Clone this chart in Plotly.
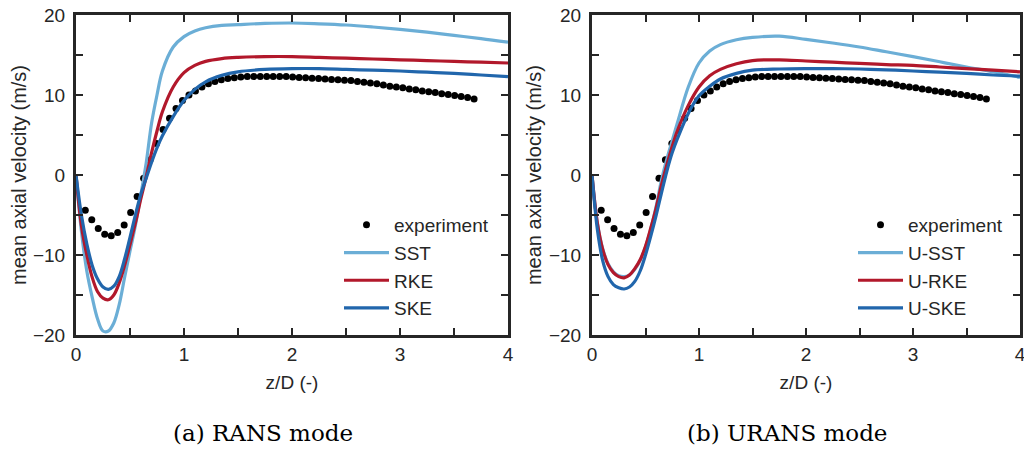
import plotly.graph_objects as go

# ---------------- data ----------------
exp_z = [0.086, 0.146, 0.206, 0.266, 0.326, 0.386, 0.446, 0.506, 0.566, 0.626,
         0.686, 0.746, 0.806, 0.866, 0.926, 0.986, 1.046, 1.106, 1.166, 1.226,
         1.286, 1.346, 1.406, 1.466, 1.526, 1.586, 1.646, 1.706, 1.766, 1.826,
         1.886, 1.946, 2.006, 2.066, 2.126, 2.186, 2.246, 2.306, 2.366, 2.426,
         2.486, 2.546, 2.606, 2.666, 2.726, 2.786, 2.846, 2.906, 2.966, 3.026,
         3.086, 3.146, 3.206, 3.266, 3.326, 3.386, 3.446, 3.506, 3.566, 3.626,
         3.686]
exp_u = [-4.4, -5.6, -6.7, -7.4, -7.6, -7.2, -6.25, -4.7, -2.7, -0.4,
         1.9, 3.95, 5.7, 7.1, 8.3, 9.3, 10.0, 10.5, 11.0, 11.4,
         11.7, 11.9, 12.05, 12.15, 12.25, 12.3, 12.3, 12.3, 12.3, 12.3,
         12.3, 12.3, 12.25, 12.2, 12.15, 12.1, 12.05, 12.0, 11.95, 11.9,
         11.85, 11.8, 11.7, 11.6, 11.5, 11.4, 11.25, 11.1, 11.0, 10.9,
         10.75, 10.65, 10.5, 10.4, 10.3, 10.15, 10.05, 9.95, 9.8, 9.7,
         9.5]

curve_z = [0, 0.05, 0.1, 0.15, 0.2, 0.25, 0.3, 0.35, 0.4, 0.45, 0.5, 0.55, 0.6,
           0.65, 0.7, 0.75, 0.8, 0.9, 1.0, 1.1, 1.2, 1.35, 1.5, 1.75, 2.0, 2.25,
           2.5, 2.75, 3.0, 3.25, 3.5, 3.75, 4.0]

sst = [0, -7.0, -12.0, -15.3, -18.0, -19.5, -19.5, -18.5, -16.2, -12.8, -9.5, -6.3, -2.5,
       1.5, 6.5, 10.0, 13.0, 16.0, 17.3, 18.0, 18.4, 18.7, 18.8, 18.95, 19.0, 18.9,
       18.75, 18.5, 18.2, 17.85, 17.45, 17.05, 16.6]
rke = [0, -6.3, -10.0, -12.8, -14.6, -15.4, -15.6, -15.0, -13.5, -11.3, -8.7, -6.0, -3.0,
       -0.2, 2.8, 5.5, 7.9, 11.0, 12.8, 13.7, 14.2, 14.55, 14.7, 14.8, 14.8, 14.7,
       14.6, 14.5, 14.4, 14.3, 14.2, 14.1, 14.0]
ske = [0, -5.0, -8.6, -11.3, -13.0, -14.0, -14.3, -13.9, -12.7, -10.5, -7.8, -5.0, -2.4,
       -0.4, 1.6, 3.4, 4.9, 7.3, 9.3, 10.7, 11.65, 12.45, 12.9, 13.2, 13.3, 13.3,
       13.2, 13.1, 13.0, 12.85, 12.7, 12.5, 12.3]

u_sst = [0, -6.0, -9.2, -11.1, -12.1, -12.6, -12.7, -12.5, -11.8, -10.7, -9.0, -6.7, -3.9,
         -0.6, 2.0, 4.3, 6.6, 11.0, 14.0, 15.5, 16.3, 16.9, 17.2, 17.35, 16.95, 16.5,
         16.0, 15.4, 14.8, 14.15, 13.5, 12.9, 12.2]
u_rke = [0, -6.0, -9.3, -11.2, -12.2, -12.7, -12.85, -12.5, -11.7, -10.6, -8.9, -6.6, -4.1,
         -1.2, 1.3, 3.6, 5.6, 8.7, 11.0, 12.4, 13.2, 13.9, 14.3, 14.4, 14.25, 14.1,
         13.95, 13.8, 13.7, 13.5, 13.3, 13.1, 12.9]
u_ske = [0, -6.8, -10.7, -12.7, -13.7, -14.1, -14.25, -14.0, -13.3, -12.0, -10.0, -7.6, -5.0,
         -2.2, 0.5, 2.8, 4.6, 7.7, 9.9, 11.1, 12.0, 12.7, 13.1, 13.25, 13.3, 13.3,
         13.25, 13.15, 13.0, 12.85, 12.7, 12.5, 12.35]

x_tickvals = [0, 0.5, 1, 1.5, 2, 2.5, 3, 3.5, 4]
x_ticktext = ["0", "", "1", "", "2", "", "3", "", "4"]
y_tickvals = [-20, -15, -10, -5, 0, 5, 10, 15, 20]
y_ticktext = ["\u221220", "", "\u221210", "", "0", "", "10", "", "20"]

captions = ["(a) RANS mode", "(b) URANS mode"]
left_names = ["SST", "RKE", "SKE"]
right_names = ["U-SST", "U-RKE", "U-SKE"]

# ---------------- styles ----------------
C_SST = "#6baed6"
C_RKE = "#b2182b"
C_SKE = "#2166ac"
INK = "#262626"
SANS = "Liberation Sans, Arial, sans-serif"

OFF = 8                      # page body margin in the browser
W, H = 1032 - 2 * OFF, 454 - 2 * OFF   # no page overflow -> no scrollbars
ML, MT = 76 - OFF, 15 - OFF
MR = W - (1020 - OFF)
MB = H - (335 - OFF)
PW = W - ML - MR
PH = H - MT - MB

def px_x(p):  # reference-image pixel -> paper x
    return (p - OFF - ML) / PW

def px_y(p):  # reference-image pixel -> paper y
    return 1 - (p - OFF - MT) / PH

fig = go.Figure()

panels = [
    dict(xa="x", ya="y", legend="legend", series=[sst, rke, ske], names=left_names),
    dict(xa="x2", ya="y2", legend="legend2", series=[u_sst, u_rke, u_ske], names=right_names),
]
colors = [C_SST, C_RKE, C_SKE]

for p in panels:
    fig.add_trace(go.Scatter(
        x=exp_z, y=exp_u, mode="markers", name="experiment",
        marker=dict(color="black", size=7),
        xaxis=p["xa"], yaxis=p["ya"], legend=p["legend"]))
    for vals, nm, col in zip(p["series"], p["names"], colors):
        fig.add_trace(go.Scatter(
            x=curve_z, y=vals, mode="lines", name=nm,
            line=dict(color=col, width=3.2, shape="spline", smoothing=1.0),
            xaxis=p["xa"], yaxis=p["ya"], legend=p["legend"]))

x_common = dict(range=[0, 4], tickvals=x_tickvals, ticktext=x_ticktext,
                ticks="inside", ticklen=7, tickwidth=1.5, tickcolor=INK,
                showline=True, linewidth=3, linecolor=INK, mirror="ticks",
                showgrid=False, zeroline=False, ticklabeloverflow="allow",
                automargin="bottom",
                tickfont=dict(family=SANS, size=19, color=INK),
                title=dict(text="z/D (-)", font=dict(family=SANS, size=19, color=INK), standoff=12))
y_common = dict(range=[-20, 20], tickvals=y_tickvals, ticktext=y_ticktext,
                ticks="inside", ticklen=7, tickwidth=1.5, tickcolor=INK,
                showline=True, linewidth=3, linecolor=INK, mirror="ticks",
                showgrid=False, zeroline=False, ticklabelstandoff=4,
                ticklabeloverflow="allow", automargin="left",
                tickfont=dict(family=SANS, size=19, color=INK),
                title=dict(text="mean axial velocity (m/s)",
                           font=dict(family=SANS, size=20, color=INK), standoff=2))

fig.update_layout(
    width=W, height=H,
    margin=dict(l=ML, r=MR, t=MT, b=MB),
    paper_bgcolor="white", plot_bgcolor="white",
    xaxis=dict(domain=[0, px_x(508)], anchor="y", **x_common),
    yaxis=dict(domain=[0, 1], anchor="x", **y_common),
    xaxis2=dict(domain=[px_x(592), 1], anchor="y2", **x_common),
    yaxis2=dict(domain=[0, 1], anchor="x2", **y_common),
    legend=dict(x=px_x(339), y=px_y(206), xanchor="left", yanchor="top",
                bgcolor="rgba(0,0,0,0)", borderwidth=0, itemwidth=45,
                font=dict(family=SANS, size=19, color=INK)),
    legend2=dict(x=px_x(853), y=px_y(206), xanchor="left", yanchor="top",
                 bgcolor="rgba(0,0,0,0)", borderwidth=0, itemwidth=45,
                 font=dict(family=SANS, size=19, color=INK)),
    showlegend=True,
)

for txt, cx in zip(captions, [263, 787]):
    fig.add_annotation(text=txt, xref="paper", yref="paper",
                       x=px_x(cx), y=px_y(433), xanchor="center", yanchor="middle",
                       showarrow=False,
                       font=dict(family="DejaVu Serif, serif", size=23, color="black"))

fig.write_html("out.html")
